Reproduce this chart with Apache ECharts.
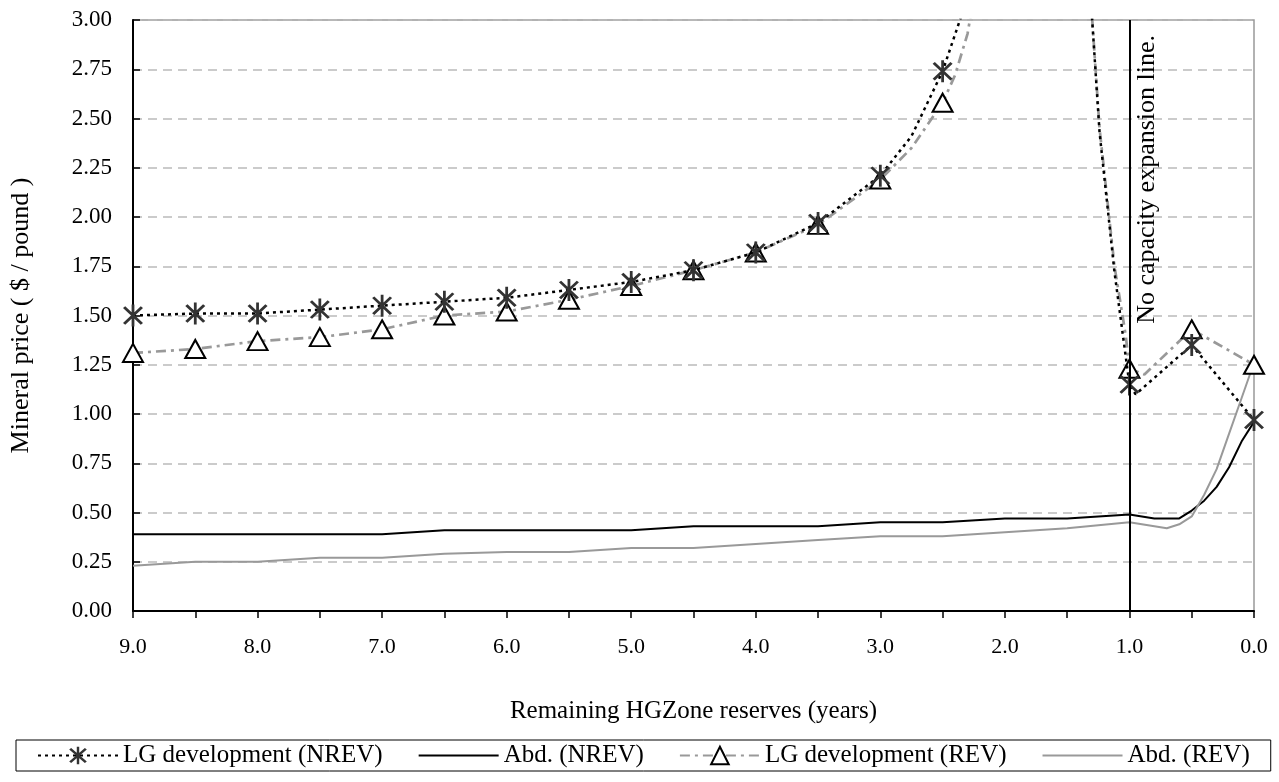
<!DOCTYPE html>
<html>
<head>
<meta charset="utf-8">
<title>Mineral price</title>
<script src="https://cdn.jsdelivr.net/npm/echarts@6/dist/echarts.min.js"></script>
<style>
  html, body { margin: 0; padding: 0; background: #fff; }
  #chart { width: 1279px; height: 782px; }
</style>
</head>
<body>
<div id="chart"></div>
<script>
/***
 * Mineral price vs remaining HG Zone reserves
 */

// x positions (years) that carry a marker
var markerX = [9.0, 8.5, 8.0, 7.5, 7.0, 6.5, 6.0, 5.5, 5.0, 4.5, 4.0, 3.5, 3.0, 2.5, 1.0, 0.5, 0.0];

// LG development (NREV), points above 3.00 are off chart
var lgNrevX = [9.0, 8.5, 8.0, 7.5, 7.0, 6.5, 6.0, 5.5, 5.0, 4.5, 4.0, 3.5, 3.0, 2.75, 2.5, 2.2, 1.32, 1.24, 1.12, 1.0, 0.95, 0.5, 0.0];
var lgNrevY = [1.50, 1.51, 1.51, 1.53, 1.55, 1.57, 1.59, 1.63, 1.67, 1.73, 1.82, 1.97, 2.21, 2.41, 2.74, 3.30, 3.20, 2.43, 1.72, 1.15, 1.10, 1.35, 0.97];

// LG development (REV)
var lgRevX = [9.0, 8.5, 8.0, 7.5, 7.0, 6.5, 6.0, 5.5, 5.0, 4.5, 4.0, 3.5, 3.0, 2.75, 2.5, 2.4, 2.3, 2.2, 1.32, 1.24, 1.12, 1.03, 1.0, 0.88, 0.5, 0.0];
var lgRevY = [1.31, 1.33, 1.37, 1.39, 1.43, 1.50, 1.52, 1.58, 1.65, 1.73, 1.82, 1.96, 2.19, 2.35, 2.58, 2.72, 2.93, 3.30, 3.20, 2.45, 1.75, 1.40, 1.23, 1.20, 1.43, 1.25];

// Abd. lines
var abdX = [9.0, 8.5, 8.0, 7.5, 7.0, 6.5, 6.0, 5.5, 5.0, 4.5, 4.0, 3.5, 3.0, 2.5, 2.0, 1.5, 1.0, 0.9, 0.8, 0.7, 0.6, 0.5, 0.4, 0.3, 0.2, 0.1, 0.0];
var abdNrevY = [0.39, 0.39, 0.39, 0.39, 0.39, 0.41, 0.41, 0.41, 0.41, 0.43, 0.43, 0.43, 0.45, 0.45, 0.47, 0.47, 0.49, 0.48, 0.47, 0.47, 0.47, 0.51, 0.56, 0.63, 0.73, 0.86, 0.96];
var abdRevY = [0.23, 0.25, 0.25, 0.27, 0.27, 0.29, 0.30, 0.30, 0.32, 0.32, 0.34, 0.36, 0.38, 0.38, 0.40, 0.42, 0.45, 0.44, 0.43, 0.42, 0.44, 0.48, 0.59, 0.72, 0.90, 1.08, 1.26];

var seriesNames = ['LG development (NREV)', 'Abd. (NREV)', 'LG development (REV)', 'Abd. (REV)'];
var capacityLineX = 1.0;
var capacityText = 'No capacity expansion line.';

var FONT = 'Liberation Serif, Times New Roman, serif';

// asterisk marker (X plus vertical bar)
var starPath = 'path://M-1,-10L1,-10L1,10L-1,10Z' +
    'M7.2,-6.9L-5.6,8.4L-7.2,6.9L5.6,-8.4Z' +
    'M-5.6,-8.4L7.2,6.9L5.6,8.4L-7.2,-6.9Z';

// build [x, y] pairs, hide symbol where there is no marker
function pairs(xs, ys, withMarkers) {
    var out = [];
    for (var i = 0; i < xs.length; i++) {
        var item = { value: [xs[i], ys[i]] };
        if (withMarkers && markerX.indexOf(xs[i]) < 0) {
            item.symbol = 'none';
        }
        out.push(item);
    }
    return out;
}

var myChart = echarts.init(document.getElementById('chart'));

var option = {
    backgroundColor: '#fff',
    animation: false,
    textStyle: { fontFamily: FONT, color: '#000' },
    grid: {
        left: 122,
        right: 25,
        top: 20,
        bottom: 171,
        show: true,
        borderColor: '#999',
        borderWidth: 1.5,
        backgroundColor: '#fff'
    },
    legend: {
        left: 16,
        top: 740,
        padding: [3, 21, 3, 21],
        itemGap: 35,
        itemWidth: 80,
        itemHeight: 22,
        borderColor: '#000',
        borderWidth: 1,
        textStyle: { fontFamily: FONT, fontSize: 25, color: '#000' },
        data: [
            { name: seriesNames[0] },
            { name: seriesNames[1], itemStyle: { opacity: 0 } },
            { name: seriesNames[2] },
            { name: seriesNames[3], itemStyle: { opacity: 0 } }
        ]
    },
    xAxis: {
        type: 'value',
        inverse: true,
        min: 0,
        max: 9,
        interval: 0.5,
        name: 'Remaining HGZone reserves (years)',
        nameLocation: 'middle',
        nameGap: 88,
        nameTextStyle: { fontFamily: FONT, fontSize: 25, color: '#000' },
        axisLine: { onZero: false, lineStyle: { color: '#000', width: 2 } },
        axisTick: { show: true, length: 7, lineStyle: { color: '#000', width: 1.5 } },
        axisLabel: {
            fontFamily: FONT,
            fontSize: 22,
            color: '#000',
            margin: 25,
            formatter: function (v) {
                return (Math.abs(v - Math.round(v)) < 1e-6) ? v.toFixed(1) : '';
            }
        },
        splitLine: { show: false }
    },
    yAxis: {
        type: 'value',
        min: 0,
        max: 3,
        interval: 0.25,
        name: 'Mineral price ( $ / pound )',
        nameLocation: 'middle',
        nameGap: 99,
        nameTextStyle: { fontFamily: FONT, fontSize: 26, color: '#000' },
        axisLine: { show: true, onZero: false, lineStyle: { color: '#000', width: 2 } },
        axisTick: { show: true, inside: true, length: 7, lineStyle: { color: '#000', width: 1.5 } },
        axisLabel: {
            fontFamily: FONT,
            fontSize: 23,
            color: '#000',
            margin: 21,
            formatter: function (v) { return v.toFixed(2); }
        },
        splitLine: { show: true, lineStyle: { color: '#bbb', width: 1.5, type: [9, 6] } }
    },
    series: [{
        name: seriesNames[0],
        type: 'line',
        data: pairs(lgNrevX, lgNrevY, true),
        symbol: starPath,
        symbolSize: [20, 22],
        showAllSymbol: true,
        clip: true,
        z: 4,
        itemStyle: { color: '#333' },
        lineStyle: { color: '#000', width: 2.5, type: [3, 4] }
    }, {
        name: seriesNames[1],
        type: 'line',
        data: pairs(abdX, abdNrevY, false),
        symbol: 'none',
        clip: true,
        itemStyle: { color: '#000' },
        lineStyle: { color: '#000', width: 2 },
        markLine: {
            silent: true,
            symbol: ['none', 'none'],
            lineStyle: { color: '#000', width: 2, type: 'solid' },
            label: {
                show: true,
                position: 'insideEndBottom',
                formatter: capacityText,
                fontFamily: FONT,
                fontSize: 26,
                color: '#000',
                padding: [0, 10, 0, 0]
            },
            data: [{ xAxis: capacityLineX }]
        }
    }, {
        name: seriesNames[2],
        type: 'line',
        data: pairs(lgRevX, lgRevY, true),
        symbol: 'triangle',
        symbolSize: [20, 18],
        showAllSymbol: true,
        clip: true,
        z: 3,
        itemStyle: { color: '#fff', borderColor: '#000', borderWidth: 2 },
        lineStyle: { color: '#999', width: 2.7, type: [10, 5, 3, 5] }
    }, {
        name: seriesNames[3],
        type: 'line',
        data: pairs(abdX, abdRevY, false),
        symbol: 'none',
        clip: true,
        itemStyle: { color: '#999' },
        lineStyle: { color: '#999', width: 2 }
    }]
};

myChart.setOption(option);
window.onresize = myChart.resize;
</script>
</body>
</html>
